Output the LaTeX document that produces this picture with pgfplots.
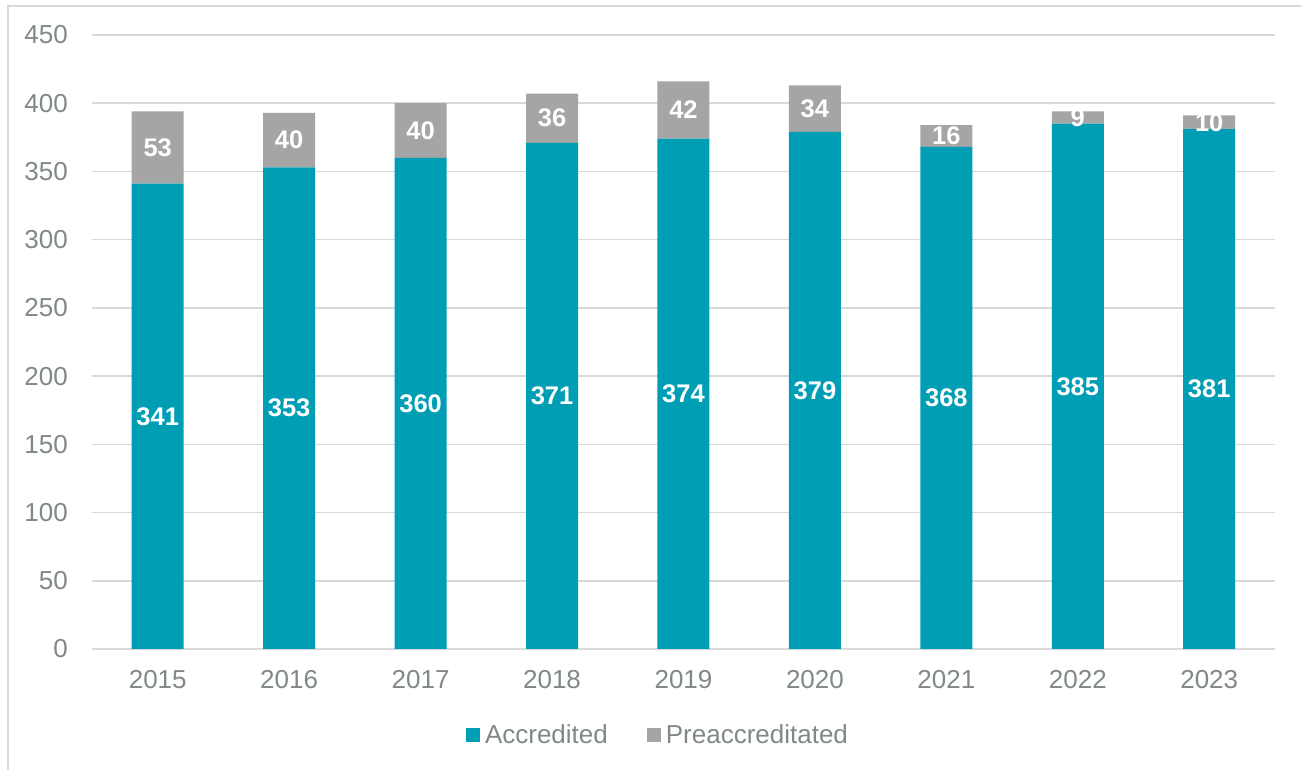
\documentclass[border=0pt]{standalone}
\usepackage{pgfplots}
\pgfplotsset{compat=1.18}
\usepackage{pgfplotstable}
\usepackage{fontspec}
\setmainfont{Liberation Sans}
\definecolor{accteal}{RGB}{0,158,181}
\definecolor{pregray}{RGB}{165,165,165}
\definecolor{tickgray}{RGB}{128,136,136}
\definecolor{gridgray}{RGB}{217,217,217}
\definecolor{framegray}{RGB}{217,217,217}

\pgfplotstableread{
x acc pre
0 341 53
1 353 40
2 360 40
3 371 36
4 374 42
5 379 34
6 368 16
7 385 9
8 381 10
}\data

\begin{document}
\begin{tikzpicture}
\useasboundingbox (-92pt,-121pt) rectangle (1209pt,649pt);
\draw[framegray, line width=1.5pt] (-84pt,-121pt) -- (-84pt,643pt) -- (1209pt,643pt);
\begin{axis}[
  at={(0pt,0pt)}, anchor=south west,
  scale only axis, width=1183pt, height=614pt,
  xmin=-0.5, xmax=8.5, ymin=0, ymax=450,
  ytick={0,50,...,450},
  xtick={0,...,8},
  xticklabels={2015,2016,2017,2018,2019,2020,2021,2022,2023},
  /pgf/number format/assume math mode=true,
  ybar stacked, bar width=52pt,
  axis line style={draw=none},
  tick style={draw=none},
  major tick length=0pt,
  ymajorgrids, grid style={gridgray, line width=1.5pt},
  ticklabel style={font=\fontsize{26}{30}\selectfont, text=tickgray},
  yticklabel style={inner sep=0pt, xshift=-24pt},
  xticklabel style={inner sep=0pt, yshift=-21pt},
  legend style={at={(0.4797,-0.140)}, anchor=center, draw=none, fill=none,
    legend columns=2, font=\fontsize{26}{30}\selectfont, text=tickgray,
    /tikz/every even column/.append style={column sep=34pt},
    nodes={inner sep=5pt}},
  legend image code/.code={\fill[#1] (0pt,-7pt) rectangle (14pt,7pt);},
]
\addplot[fill=accteal, draw=none] table[x=x, y=acc] {\data};
\addplot[fill=pregray, draw=none] table[x=x, y=pre] {\data};
\legend{Accredited, Preaccreditated}
\end{axis}
\begin{axis}[
  at={(0pt,0pt)}, anchor=south west,
  scale only axis, width=1183pt, height=614pt,
  xmin=-0.5, xmax=8.5, ymin=0, ymax=450,
  hide axis,
  nodes near coords={\pgfplotspointmeta},
  every node near coord/.append style={anchor=center, text=white,
    font=\bfseries\fontsize{25.5}{30}\selectfont},
]
\addplot[draw=none, mark=none, point meta=explicit symbolic]
  table[x=x, y expr=\thisrow{acc}/2, meta=acc] {\data};
\addplot[draw=none, mark=none, point meta=explicit symbolic]
  table[x=x, y expr=\thisrow{acc}+\thisrow{pre}/2, meta=pre] {\data};
\end{axis}
\end{tikzpicture}
\end{document}
